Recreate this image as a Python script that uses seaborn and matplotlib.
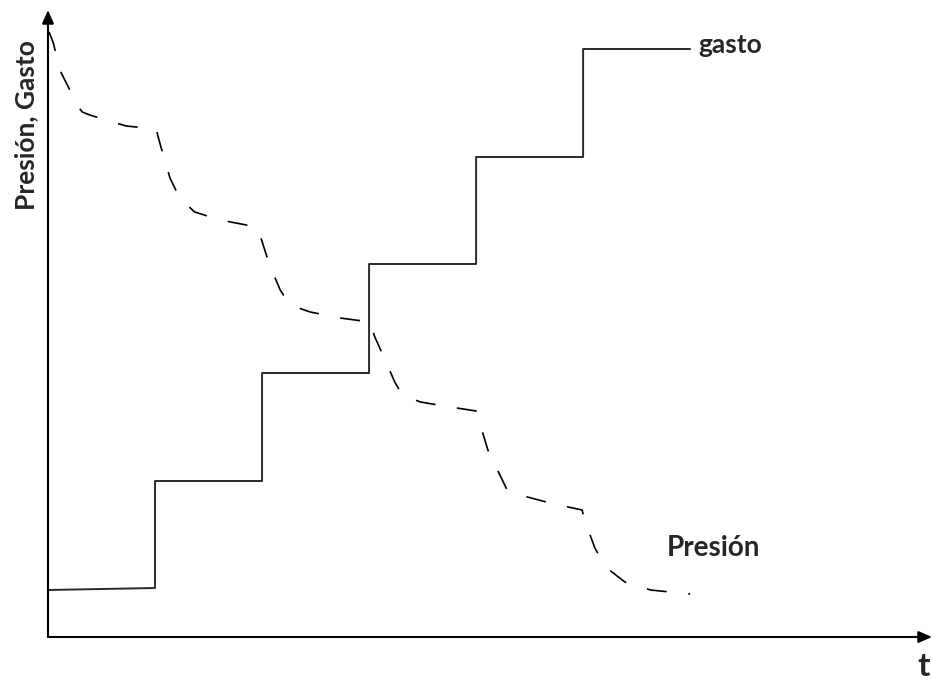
import pandas as pd
import seaborn as sns
import matplotlib.pyplot as plt

# gasto: step rate (t in step units, value in axis units)
gasto_t = [0, 1, 1, 2, 2, 3, 3, 4, 4, 5, 5, 6]
gasto_q = [0.47, 0.49, 1.56, 1.56, 2.64, 2.64, 3.73, 3.73, 4.80, 4.80, 5.88, 5.88]

# presion: pressure response
pres_t = [0.01, 0.05, 0.11, 0.19, 0.27, 0.32, 0.39, 0.73, 1.01,
          1.05, 1.14, 1.23, 1.37, 1.61, 1.95,
          1.99, 2.07, 2.17, 2.26, 2.45, 2.73, 3.01,
          3.05, 3.15, 3.24, 3.31, 3.48, 3.76, 4.00,
          4.04, 4.11, 4.20, 4.29, 4.41, 4.69, 4.99,
          5.02, 5.11, 5.21, 5.39, 5.63, 6.00]
pres_p = [6.05, 5.94, 5.67, 5.50, 5.32, 5.25, 5.22, 5.11, 5.08,
          4.92, 4.59, 4.39, 4.25, 4.17, 4.10,
          3.99, 3.72, 3.47, 3.32, 3.25, 3.19, 3.15,
          3.01, 2.77, 2.55, 2.42, 2.35, 2.30, 2.26,
          2.12, 1.87, 1.67, 1.47, 1.42, 1.34, 1.27,
          1.15, 0.89, 0.70, 0.55, 0.47, 0.43]

df_gasto = pd.DataFrame({'t': gasto_t, 'q': gasto_q})
df_pres = pd.DataFrame({'t': pres_t, 'p': pres_p})

sns.set_style('white')
plt.rcParams['font.family'] = ['Lato', 'DejaVu Sans']

fig = plt.figure(figsize=(9.32, 6.84), dpi=100)
ax = fig.add_axes([48 / 932, 47 / 684, 884 / 932, 627 / 684])

sns.lineplot(x='t', y='q', data=df_gasto, estimator=None, sort=False,
             color='#2a2a2a', linewidth=1.4, ax=ax)
sns.lineplot(x='t', y='p', data=df_pres, estimator=None, sort=False,
             color='black', linewidth=1.2, dashes=False, ax=ax,
             linestyle=(0, (12, 13)))

ax.set_xlim(0, 8.26)
ax.set_ylim(0, 6.27)
ax.set_xticks([])
ax.set_yticks([])
ax.set_xlabel('')
ax.set_ylabel('')
for s in ax.spines.values():
    s.set_visible(False)

# axes with arrows
arrow = dict(arrowstyle='-|>,head_length=0.8,head_width=0.35', color='black',
             lw=1.5, shrinkA=0, shrinkB=0)
ax.annotate('', xy=(0, 1), xytext=(0, 0), xycoords='axes fraction',
            arrowprops=arrow, annotation_clip=False)
ax.annotate('', xy=(1, 0), xytext=(0, 0), xycoords='axes fraction',
            arrowprops=arrow, annotation_clip=False)

ax.text(6.08, 5.92, 'gasto', fontsize=19, fontweight='bold', va='center', ha='left')
ax.text(5.78, 0.89, 'Presión', fontsize=20, fontweight='bold', va='center', ha='left')
fig.text(26 / 932, 1 - 125 / 684, 'Presión, Gasto', fontsize=19, fontweight='bold',
         rotation=90, va='center', ha='center')
fig.text(924 / 932, 1 - 667 / 684, 't', fontsize=24, fontweight='bold',
         va='center', ha='center')

plt.savefig('out.png', dpi=100)
